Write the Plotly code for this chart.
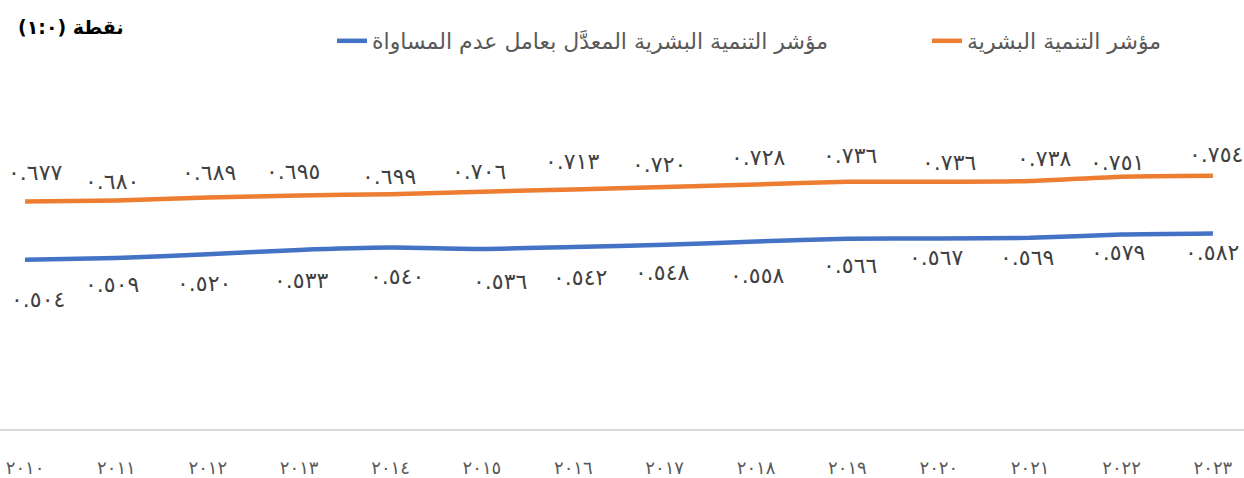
import plotly.graph_objects as go

years = list(range(2010, 2024))
hdi = [0.677, 0.680, 0.689, 0.695, 0.699, 0.706, 0.713, 0.720, 0.728, 0.736, 0.736, 0.738, 0.751, 0.754]
ihdi = [0.504, 0.509, 0.520, 0.533, 0.540, 0.536, 0.542, 0.548, 0.558, 0.566, 0.567, 0.569, 0.579, 0.582]
name_hdi = "مؤشر التنمية البشرية"
name_ihdi = "مؤشر التنمية البشرية المعدَّل بعامل عدم المساواة"
title_word = "نقطة"
title_scale = "(١:٠)"

# label offsets (px) as placed in the original chart
hdi_dx = [10, -4, 1, -6, -2, -3, -1, -6, 2, 3, 10, 14, -5, 3]
hdi_dy = [29, 19, 25, 24, 18, 20, 28, 23, 27, 26, 19, 23, 14, 21]
ihdi_dx = [13, -4, -4, 2, 6, 18, 7, -3, 1, 3, -3, -3, -4, -1]
ihdi_dy = [-40, -27, -29, -31, -29, -33, -31, -28, -34, -27, -19, -20, -18, -19]

AR = str.maketrans("0123456789", "٠١٢٣٤٥٦٧٨٩")


def ar(s):
    return str(s).translate(AR)


cats = [ar(y) for y in years]
ORANGE = "#ED7D31"
BLUE = "#4472C4"
FONT = "DejaVu Sans, Noto Sans, sans-serif"
W, H = 1244, 478

fig = go.Figure()
fig.add_trace(go.Scatter(x=cats, y=ihdi, name=name_ihdi, mode="lines", legend="legend",
                         line=dict(color=BLUE, width=4.5, shape="spline", smoothing=0.6)))
fig.add_trace(go.Scatter(x=cats, y=hdi, name=name_hdi, mode="lines", legend="legend2",
                         line=dict(color=ORANGE, width=4.5, shape="spline", smoothing=0.6)))

ann = []
for c, v, dx, dy in zip(cats, hdi, hdi_dx, hdi_dy):
    ann.append(dict(x=c, y=v, text=ar(f"{v:.3f}"), showarrow=False, xshift=dx, yshift=dy,
                    font=dict(family=FONT, size=22, color="#404040")))
for c, v, dx, dy in zip(cats, ihdi, ihdi_dx, ihdi_dy):
    ann.append(dict(x=c, y=v, text=ar(f"{v:.3f}"), showarrow=False, xshift=dx, yshift=dy,
                    font=dict(family=FONT, size=22, color="#404040")))

# visual order as in the original: scale in brackets on the left, word on the right
title_text = "\u200E" + title_scale + "\u200E " + title_word

leg_font = dict(family=FONT, size=22, color="#595959")
fig.update_layout(
    width=W, height=H,
    margin=dict(l=0, r=0, t=93, b=49, autoexpand=False),
    paper_bgcolor="white", plot_bgcolor="white",
    font=dict(family=FONT, color="#595959"),
    title=dict(text="<b>" + title_text + "</b>", x=18 / W, xanchor="left", xref="paper",
               y=1 - 27 / H, yanchor="middle", yref="container",
               font=dict(family=FONT, size=19, color="#000000")),
    legend=dict(orientation="h", x=834 / W, xanchor="right", y=1 - 41 / H, yanchor="middle",
                xref="paper", yref="container", font=leg_font, bgcolor="rgba(0,0,0,0)"),
    legend2=dict(orientation="h", x=1167 / W, xanchor="right", y=1 - 41 / H, yanchor="middle",
                 xref="paper", yref="container", font=leg_font, bgcolor="rgba(0,0,0,0)"),
    xaxis=dict(type="category", range=[-0.274, 13.34], showgrid=False, showline=True,
               linecolor="#D9D9D9", linewidth=1.5, ticks="", zeroline=False, automargin=False,
               tickfont=dict(family=FONT, size=18, color="#595959"), ticklabelstandoff=22),
    yaxis=dict(range=[0, 1], visible=False, showgrid=False, zeroline=False),
    annotations=ann,
    showlegend=True,
)

fig.write_html("out.html", config={"displayModeBar": False},
               post_script="document.body.style.margin='0';")
